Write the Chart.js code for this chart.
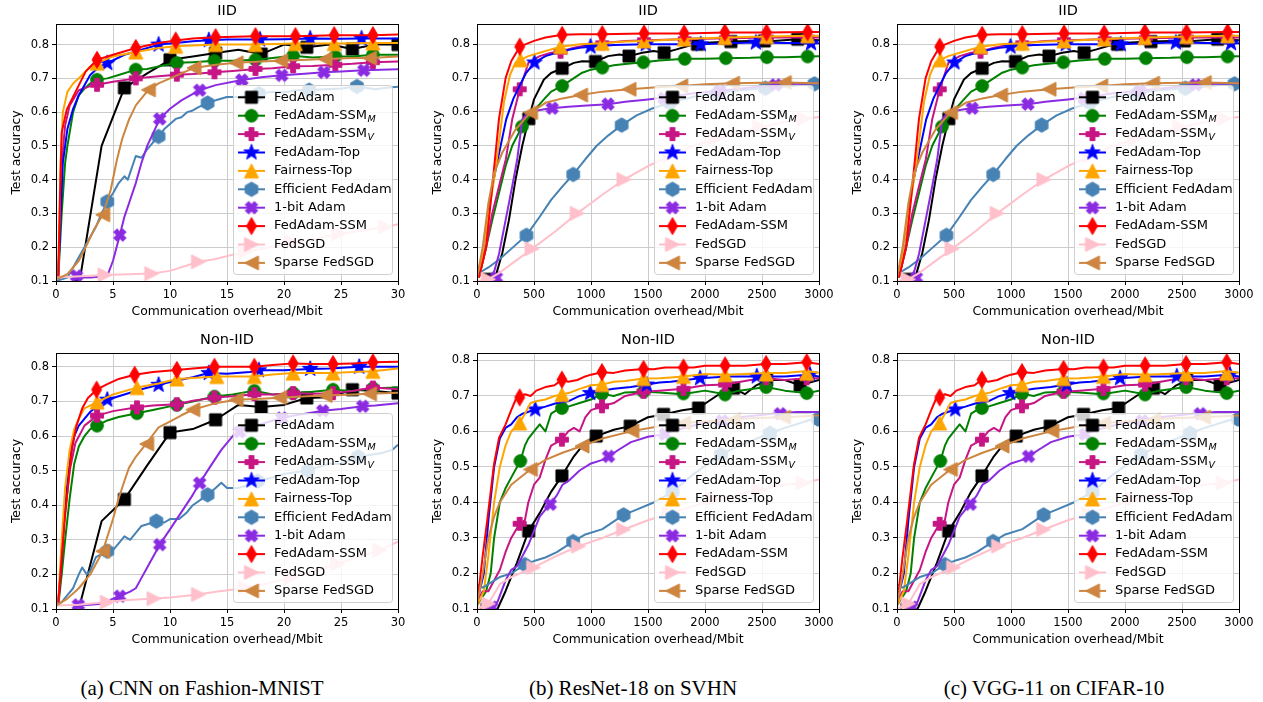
<!DOCTYPE html>
<html>
<head>
<meta charset="utf-8">
<script src="https://cdn.jsdelivr.net/npm/chart.js@4.4.1/dist/chart.umd.min.js"></script>
<style>
  body { margin: 0; background: #fff; width: 1263px; height: 702px; position: relative; overflow: hidden; }
  canvas { position: absolute; }
  .cap { position: absolute; top: 676px; font: 21px 'Liberation Serif', 'Times New Roman', serif; color: #000; white-space: nowrap; transform: translateX(-50%); }
</style>
</head>
<body>
<canvas id="c0"></canvas><canvas id="c1"></canvas><canvas id="c2"></canvas>
<canvas id="c3"></canvas><canvas id="c4"></canvas><canvas id="c5"></canvas>
<div class="cap" style="left:202px">(a) CNN on Fashion-MNIST</div>
<div class="cap" style="left:633px">(b) ResNet-18 on SVHN</div>
<div class="cap" style="left:1054px">(c) VGG-11 on CIFAR-10</div>
<script>
// series names, in legend order
const seriesLabels = ['FedAdam', 'FedAdam-SSM_M', 'FedAdam-SSM_V', 'FedAdam-Top', 'Fairness-Top',
  'Efficient FedAdam', '1-bit Adam', 'FedAdam-SSM', 'FedSGD', 'Sparse FedSGD'];
const seriesColors = ['#000000', '#008000', '#c71585', '#0000ff', '#ffa500',
  '#4682b4', '#8a2be2', '#ff0000', '#ffc0cb', '#cd853f'];
const seriesMarkers = ['s', 'o', 'P', '*', '^', 'h', 'X', 'd', '>', '<'];

const yTicks = [0.1, 0.2, 0.3, 0.4, 0.5, 0.6, 0.7, 0.8];
const xTicksMbitSmall = [0, 5, 10, 15, 20, 25, 30];
const xTicksMbitLarge = [0, 500, 1000, 1500, 2000, 2500, 3000];

// ---- CNN on Fashion-MNIST, IID ----
const fmIidAdam = [[1.5,0.1],[2.1,0.105],[4,0.5],[6,0.672],[8,0.715],[10,0.755],[12,0.765],[14,0.775],[16,0.785],[18,0.772],[20,0.8],[22,0.792],[24,0.8],[26,0.787],[28,0.8],[30,0.8]];
const fmIidAdamMk = [[6,0.672],[10,0.755],[14,0.775],[18,0.772],[22,0.792],[26,0.787],[30,0.8]];
const fmIidSsmM = [[0.2,0.11],[0.5,0.3],[0.8,0.45],[1,0.5],[1.5,0.6],[2,0.65],[2.5,0.67],[3,0.685],[3.6,0.696],[4.5,0.7],[5.5,0.71],[7,0.726],[8,0.728],[9,0.735],[10.6,0.746],[12,0.748],[13.9,0.752],[15.5,0.752],[17.5,0.755],[19,0.76],[20.8,0.767],[22.5,0.762],[24.5,0.765],[26,0.765],[27.8,0.77],[30,0.77]];
const fmIidSsmMMk = [[3.6,0.696],[7,0.726],[10.6,0.746],[13.9,0.752],[17.5,0.755],[20.8,0.767],[24.5,0.765],[27.8,0.77]];
const fmIidSsmV = [[0.2,0.11],[0.5,0.45],[0.8,0.56],[1.2,0.62],[2,0.665],[3,0.677],[3.6,0.681],[5,0.69],[7,0.7],[9,0.706],[10.6,0.711],[12,0.713],[13.9,0.718],[15.5,0.722],[17.5,0.728],[19,0.73],[20.8,0.736],[22.5,0.737],[24.5,0.74],[26,0.743],[27.8,0.748],[30,0.75]];
const fmIidSsmVMk = [[3.6,0.681],[7,0.7],[10.6,0.711],[13.9,0.718],[17.5,0.728],[20.8,0.736],[24.5,0.74],[27.8,0.748]];
const fmIidTop = [[0.2,0.12],[0.6,0.45],[1,0.55],[1.5,0.61],[2,0.65],[3,0.71],[3.8,0.735],[4.5,0.745],[6,0.77],[7.5,0.785],[9,0.8],[10.5,0.805],[12,0.81],[13.4,0.813],[15,0.815],[18,0.815],[20,0.816],[22.3,0.818],[25,0.817],[26.8,0.818],[30,0.818]];
const fmIidTopMk = [[4.5,0.745],[9,0.8],[13.4,0.813],[17.9,0.815],[22.3,0.818],[26.8,0.818]];
const fmIidFair = [[0.2,0.12],[0.4,0.45],[0.6,0.6],[1,0.66],[1.5,0.685],[2,0.7],[3,0.735],[3.6,0.745],[5,0.765],[7,0.778],[9,0.79],[10.5,0.795],[14,0.8],[17.5,0.8],[21,0.803],[24.4,0.803],[27.8,0.805],[30,0.805]];
const fmIidFairMk = [[3.6,0.745],[7,0.778],[10.5,0.795],[14,0.8],[17.5,0.8],[21,0.803],[24.4,0.803],[27.8,0.805]];
const fmIidEff = [[0,0.1],[1,0.11],[1.5,0.14],[2,0.17],[2.5,0.2],[3,0.23],[3.5,0.26],[4,0.3],[4.5,0.335],[5,0.36],[5.5,0.39],[6,0.41],[6.3,0.4],[6.8,0.45],[7,0.47],[7.5,0.465],[8,0.49],[8.5,0.51],[9,0.528],[9.5,0.55],[10,0.565],[10.5,0.58],[11,0.585],[11.5,0.6],[12,0.605],[12.5,0.615],[13.3,0.627],[14,0.635],[15,0.645],[16,0.645],[17,0.65],[17.8,0.655],[19,0.66],[20,0.658],[21,0.665],[22.2,0.665],[23.5,0.668],[25,0.67],[26.4,0.676],[28,0.668],[29,0.672],[30,0.675]];
const fmIidEffMk = [[4.5,0.335],[9,0.528],[13.3,0.627],[17.8,0.655],[22.2,0.665],[26.4,0.676]];
const fmIidOneBit = [[1.5,0.11],[3,0.11],[4.5,0.115],[5,0.16],[5.6,0.236],[6,0.29],[6.5,0.34],[7,0.39],[7.5,0.45],[8,0.5],[9.1,0.58],[10,0.61],[11,0.635],[12.6,0.665],[14,0.68],[16.3,0.695],[18,0.703],[19.8,0.709],[21.5,0.713],[23.5,0.718],[25,0.72],[27,0.724],[30,0.727]];
const fmIidOneBitMk = [[1.8,0.115],[5.6,0.236],[9.1,0.58],[12.6,0.665],[16.3,0.695],[19.8,0.709],[23.5,0.718],[27,0.724]];
const fmIidSsm = [[0.2,0.11],[0.35,0.35],[0.5,0.54],[0.94,0.607],[1.8,0.666],[2.6,0.72],[3.6,0.755],[5,0.77],[7,0.79],[9,0.805],[10.5,0.812],[12,0.818],[14,0.822],[17.5,0.825],[21,0.825],[24.4,0.828],[27.8,0.828],[30,0.83]];
const fmIidSsmMk = [[3.6,0.755],[7,0.79],[10.5,0.812],[14,0.822],[17.5,0.825],[21,0.825],[24.4,0.828],[27.8,0.828]];
const fmIidSgd = [[0,0.11],[4.3,0.118],[8.4,0.122],[10,0.13],[12.5,0.157],[14,0.165],[16.6,0.187],[18,0.195],[20.7,0.215],[22,0.22],[24.8,0.24],[26,0.245],[28.9,0.26],[30,0.268]];
const fmIidSgdMk = [[4.3,0.118],[8.4,0.122],[12.5,0.157],[16.6,0.187],[20.7,0.215],[24.8,0.24],[28.9,0.26]];
const fmIidSparse = [[0,0.105],[1,0.12],[2,0.16],[2.6,0.2],[3.3,0.25],[4.1,0.296],[4.8,0.37],[5.35,0.46],[5.8,0.52],[6.4,0.578],[7,0.62],[8.1,0.666],[9,0.685],[10,0.7],[11,0.715],[12.1,0.731],[14,0.74],[15.8,0.746],[18,0.75],[19.7,0.752],[22,0.755],[23.6,0.757],[26,0.76],[27.5,0.76],[30,0.765]];
const fmIidSparseMk = [[4.1,0.296],[8.1,0.666],[12.1,0.731],[15.8,0.746],[19.7,0.752],[23.6,0.757],[27.5,0.76]];

// ---- CNN on Fashion-MNIST, Non-IID ----
const fmNonAdam = [[1.5,0.1],[2.1,0.113],[4,0.354],[6,0.417],[8,0.515],[10,0.61],[12,0.62],[14,0.647],[16,0.69],[18,0.684],[20,0.69],[22,0.71],[24,0.712],[26,0.734],[28,0.73],[30,0.724]];
const fmNonAdamMk = [[6,0.417],[10,0.61],[14,0.647],[18,0.684],[22,0.71],[26,0.734],[30,0.724]];
const fmNonSsmM = [[0.2,0.11],[0.5,0.2],[0.8,0.3],[1.2,0.42],[1.6,0.52],[2,0.57],[2.5,0.6],[3,0.62],[3.6,0.63],[4.5,0.645],[5.5,0.655],[7.1,0.666],[8.5,0.675],[10.6,0.69],[12,0.7],[13.9,0.714],[15.5,0.72],[17.4,0.731],[19,0.72],[20.8,0.724],[22.5,0.728],[24.3,0.734],[26,0.73],[27.8,0.738],[30,0.74]];
const fmNonSsmMMk = [[3.6,0.63],[7.1,0.666],[10.6,0.69],[13.9,0.714],[17.4,0.731],[20.8,0.724],[24.3,0.734],[27.8,0.738]];
const fmNonSsmV = [[0.2,0.11],[0.5,0.25],[0.7,0.35],[1.2,0.5],[1.7,0.58],[2.5,0.63],[3.6,0.659],[5,0.672],[7.1,0.683],[8.5,0.688],[10.6,0.692],[12,0.702],[13.9,0.711],[15.5,0.715],[17.4,0.721],[19,0.72],[20.8,0.724],[22.5,0.722],[24.3,0.724],[26,0.73],[27.8,0.74],[30,0.735]];
const fmNonSsmVMk = [[3.6,0.659],[7.1,0.683],[10.6,0.692],[13.9,0.711],[17.4,0.721],[20.8,0.724],[24.3,0.724],[27.8,0.74]];
const fmNonTop = [[0.2,0.12],[0.5,0.25],[0.8,0.4],[1.2,0.53],[1.6,0.6],[2,0.63],[3,0.67],[3.8,0.69],[4.5,0.705],[6,0.72],[7.5,0.735],[9,0.748],[10.5,0.76],[12,0.77],[13.4,0.782],[15,0.78],[17,0.785],[18,0.79],[20,0.79],[22.3,0.794],[24,0.795],[26.6,0.8],[28,0.8],[30,0.8]];
const fmNonTopMk = [[4.5,0.705],[9,0.748],[13.4,0.782],[17.8,0.79],[22.3,0.794],[26.6,0.8]];
const fmNonFair = [[0.2,0.12],[0.5,0.3],[0.8,0.45],[1.2,0.56],[1.6,0.62],[2,0.65],[2.5,0.68],[3.6,0.698],[5,0.72],[7.1,0.74],[9,0.752],[10.6,0.765],[12,0.768],[14.1,0.772],[17.4,0.772],[19,0.778],[20.8,0.782],[24.3,0.782],[26,0.785],[27.8,0.787],[30,0.795]];
const fmNonFairMk = [[3.6,0.698],[7.1,0.74],[10.6,0.765],[14.1,0.772],[17.4,0.772],[20.8,0.782],[24.3,0.782],[27.8,0.787]];
const fmNonEff = [[0,0.11],[0.5,0.12],[1,0.14],[1.5,0.16],[2,0.2],[2.3,0.22],[2.7,0.2],[3,0.21],[3.5,0.25],[4.5,0.267],[5,0.27],[5.5,0.29],[6,0.31],[6.5,0.3],[7,0.32],[7.5,0.34],[8,0.345],[8.8,0.354],[9.5,0.35],[10,0.36],[10.8,0.36],[11.5,0.38],[12,0.4],[13.3,0.43],[14,0.45],[14.5,0.465],[15,0.45],[16,0.45],[17,0.46],[17.7,0.47],[19,0.48],[20,0.49],[21,0.495],[22.1,0.5],[23,0.51],[24,0.52],[25,0.52],[26.5,0.54],[27.5,0.545],[28.5,0.55],[29.5,0.56],[30,0.575]];
const fmNonEffMk = [[4.5,0.267],[8.8,0.354],[13.3,0.43],[17.7,0.47],[22.1,0.5],[26.5,0.54]];
const fmNonOneBit = [[1.5,0.11],[3,0.112],[4,0.115],[5,0.13],[5.6,0.137],[6.5,0.15],[7,0.16],[7.5,0.19],[8,0.22],[9.1,0.286],[10,0.33],[11,0.38],[12,0.43],[12.6,0.464],[13.5,0.51],[14.5,0.56],[15.5,0.6],[16.3,0.615],[17,0.625],[18,0.635],[19.8,0.652],[21,0.66],[22,0.665],[23.4,0.673],[25,0.678],[26.9,0.686],[28,0.688],[30,0.695]];
const fmNonOneBitMk = [[1.96,0.112],[5.6,0.137],[9.1,0.286],[12.6,0.464],[16.1,0.612],[19.8,0.652],[23.4,0.673],[26.9,0.686]];
const fmNonSsm = [[0.2,0.12],[0.5,0.25],[0.8,0.37],[1.1,0.47],[1.4,0.566],[1.8,0.63],[2.3,0.68],[2.8,0.71],[3.56,0.734],[4.5,0.75],[5.5,0.765],[6.9,0.777],[8.5,0.785],[10.6,0.791],[12,0.795],[13.9,0.8],[15.5,0.8],[17.4,0.8],[19,0.805],[20.8,0.81],[22.5,0.808],[24.3,0.808],[26,0.81],[27.8,0.813],[30,0.815]];
const fmNonSsmMk = [[3.56,0.734],[6.9,0.777],[10.6,0.791],[13.9,0.8],[17.4,0.8],[20.8,0.81],[24.3,0.808],[27.8,0.813]];
const fmNonSgd = [[0,0.11],[2,0.112],[4.5,0.12],[6,0.125],[8.6,0.13],[10,0.133],[12.5,0.142],[14,0.15],[16.5,0.16],[18,0.17],[20.6,0.19],[22,0.205],[24.7,0.23],[26,0.245],[28.4,0.27],[30,0.295]];
const fmNonSgdMk = [[4.5,0.12],[8.6,0.13],[12.5,0.142],[16.6,0.162],[20.6,0.19],[24.7,0.23],[28.4,0.27]];
const fmNonSparse = [[0,0.11],[1,0.13],[2,0.16],[3,0.2],[4.1,0.267],[5,0.36],[5.5,0.42],[6,0.47],[6.4,0.508],[7,0.54],[7.9,0.577],[9,0.625],[9.9,0.64],[11,0.66],[12,0.676],[14,0.695],[15.8,0.705],[18,0.708],[19.6,0.711],[22,0.715],[23.6,0.717],[26,0.72],[27.5,0.722],[30,0.725]];
const fmNonSparseMk = [[4.1,0.267],[7.95,0.577],[12,0.676],[15.8,0.705],[19.6,0.711],[23.6,0.717],[27.5,0.722]];

// ---- ResNet-18 on SVHN, IID (the VGG-11 panels show the same curves) ----
const svIidAdam = [[103,0.105],[160,0.11],[222,0.183],[280,0.28],[338,0.4],[397,0.5],[454,0.58],[500,0.637],[587,0.696],[650,0.715],[747,0.729],[850,0.745],[923,0.75],[1040,0.749],[1150,0.765],[1250,0.77],[1333,0.765],[1450,0.775],[1550,0.78],[1641,0.775],[1750,0.785],[1850,0.795],[1934,0.8],[2050,0.805],[2227,0.808],[2400,0.81],[2600,0.81],[2813,0.815],[3000,0.812]];
const svIidAdamMk = [[103,0.105],[454,0.58],[747,0.729],[1040,0.749],[1333,0.765],[1641,0.775],[1934,0.8],[2227,0.808],[2520,0.81],[2813,0.815]];
const svIidSsmM = [[17,0.11],[80,0.2],[134,0.28],[193,0.36],[251,0.44],[309,0.5],[395,0.557],[485,0.598],[587,0.637],[650,0.66],[747,0.677],[850,0.7],[923,0.716],[1000,0.725],[1099,0.731],[1200,0.738],[1300,0.742],[1459,0.747],[1600,0.752],[1822,0.757],[2000,0.757],[2183,0.759],[2400,0.76],[2543,0.762],[2700,0.762],[2900,0.764],[3000,0.765]];
const svIidSsmMMk = [[395,0.557],[747,0.677],[1099,0.731],[1459,0.747],[1822,0.757],[2183,0.759],[2543,0.762],[2900,0.764]];
const svIidSsmV = [[17,0.11],[80,0.2],[134,0.3],[193,0.38],[253,0.46],[309,0.578],[375,0.667],[452,0.746],[550,0.765],[650,0.775],[733,0.778],[850,0.79],[1000,0.8],[1099,0.803],[1300,0.81],[1500,0.812],[1800,0.815],[2200,0.818],[2600,0.82],[3000,0.82]];
const svIidSsmVMk = [[375,0.667],[733,0.778],[1099,0.803],[1465,0.812],[1822,0.815],[2183,0.818],[2543,0.82],[2900,0.82]];
const svIidTop = [[17,0.11],[80,0.25],[134,0.38],[195,0.48],[256,0.578],[320,0.64],[373,0.677],[430,0.715],[504,0.746],[600,0.765],[750,0.78],[900,0.79],[996,0.793],[1200,0.798],[1480,0.8],[1700,0.8],[1963,0.8],[2200,0.803],[2446,0.805],[2700,0.804],[2930,0.803],[3000,0.803]];
const svIidTopMk = [[504,0.746],[996,0.793],[1480,0.8],[1963,0.8],[2446,0.805],[2930,0.803]];
const svIidFair = [[17,0.11],[80,0.25],[163,0.43],[237,0.63],[290,0.71],[338,0.746],[381,0.754],[450,0.765],[550,0.775],[733,0.793],[900,0.8],[1099,0.803],[1300,0.808],[1465,0.81],[1817,0.816],[2174,0.82],[2540,0.823],[2900,0.825],[3000,0.825]];
const svIidFairMk = [[381,0.754],[733,0.793],[1099,0.803],[1465,0.81],[1817,0.816],[2174,0.82],[2540,0.823],[2900,0.825]];
const svIidEff = [[0,0.12],[100,0.14],[200,0.165],[300,0.195],[434,0.235],[550,0.29],[650,0.34],[750,0.38],[844,0.415],[950,0.46],[1050,0.5],[1150,0.53],[1269,0.561],[1400,0.59],[1537,0.61],[1700,0.628],[1900,0.645],[2100,0.655],[2300,0.664],[2520,0.67],[2750,0.677],[2960,0.683],[3000,0.683]];
const svIidEffMk = [[434,0.235],[844,0.415],[1269,0.561],[1690,0.627],[2110,0.655],[2530,0.67],[2960,0.683]];
const svIidOneBit = [[75,0.105],[132,0.105],[193,0.18],[251,0.28],[309,0.38],[353,0.46],[397,0.578],[440,0.596],[500,0.603],[631,0.61],[800,0.615],[1000,0.62],[1149,0.623],[1300,0.63],[1500,0.637],[1700,0.645],[1900,0.655],[2150,0.663],[2400,0.672],[2620,0.68],[2800,0.683],[3000,0.685]];
const svIidOneBitMk = [[170,0.11],[660,0.611],[1149,0.623],[1640,0.64],[2130,0.662],[2620,0.68]];
const svIidSsm = [[17,0.11],[80,0.2],[134,0.38],[193,0.58],[251,0.7],[300,0.75],[375,0.793],[500,0.81],[600,0.82],[747,0.828],[900,0.83],[1099,0.83],[1465,0.832],[1817,0.832],[2174,0.835],[2540,0.835],[2900,0.836],[3000,0.836]];
const svIidSsmMk = [[375,0.793],[747,0.828],[1099,0.83],[1465,0.832],[1817,0.832],[2174,0.835],[2540,0.835],[2900,0.836]];
const svIidSgd = [[0,0.1],[100,0.105],[200,0.125],[300,0.15],[483,0.195],[700,0.25],[879,0.3],[1100,0.355],[1289,0.4],[1500,0.44],[1700,0.47],[1900,0.5],[2100,0.52],[2300,0.54],[2500,0.555],[2700,0.57],[2871,0.58],[3000,0.585]];
const svIidSgdMk = [[100,0.105],[483,0.195],[879,0.3],[1289,0.4],[1690,0.47],[2090,0.52],[2480,0.555],[2871,0.58]];
const svIidSparse = [[0,0.11],[50,0.2],[100,0.33],[150,0.42],[222,0.48],[338,0.548],[469,0.598],[601,0.627],[750,0.64],[908,0.65],[1100,0.66],[1333,0.667],[1550,0.672],[1787,0.677],[2000,0.682],[2241,0.685],[2500,0.686],[2695,0.687],[3000,0.685]];
const svIidSparseMk = [[469,0.598],[908,0.65],[1333,0.667],[1787,0.677],[2241,0.685],[2695,0.687]];

// ---- ResNet-18 on SVHN, Non-IID ----
const svNonAdam = [[88,0.1],[180,0.1],[250,0.15],[350,0.23],[453,0.32],[550,0.37],[650,0.43],[745,0.475],[850,0.53],[950,0.57],[1046,0.587],[1200,0.605],[1344,0.615],[1500,0.64],[1636,0.648],[1800,0.66],[1943,0.666],[2100,0.7],[2250,0.722],[2350,0.705],[2450,0.73],[2550,0.745],[2700,0.745],[2834,0.73],[3000,0.745]];
const svNonAdamMk = [[88,0.1],[453,0.32],[745,0.475],[1046,0.587],[1344,0.615],[1636,0.648],[1943,0.666],[2250,0.722],[2540,0.745],[2834,0.73]];
const svNonSsmM = [[0,0.11],[80,0.15],[120,0.2],[150,0.3],[200,0.4],[250,0.44],[300,0.47],[380,0.517],[420,0.56],[450,0.58],[500,0.6],[550,0.62],[600,0.6],[650,0.65],[700,0.66],[745,0.666],[800,0.67],[900,0.68],[1000,0.69],[1096,0.706],[1200,0.7],[1300,0.71],[1461,0.712],[1600,0.71],[1800,0.705],[2000,0.715],[2176,0.705],[2300,0.715],[2536,0.725],[2700,0.715],[2892,0.708],[3000,0.715]];
const svNonSsmMMk = [[380,0.517],[745,0.666],[1096,0.706],[1461,0.712],[1811,0.707],[2176,0.704],[2536,0.725],[2892,0.708]];
const svNonSsmV = [[0,0.12],[50,0.15],[100,0.15],[150,0.18],[200,0.21],[250,0.26],[300,0.3],[374,0.34],[420,0.35],[450,0.4],[500,0.45],[550,0.47],[600,0.52],[650,0.56],[745,0.577],[800,0.6],[850,0.61],[900,0.6],[950,0.64],[1000,0.66],[1096,0.671],[1200,0.68],[1300,0.7],[1461,0.712],[1600,0.715],[1811,0.72],[2000,0.73],[2176,0.732],[2400,0.745],[2536,0.75],[2700,0.745],[2892,0.75],[3000,0.75]];
const svNonSsmVMk = [[374,0.34],[745,0.577],[1096,0.671],[1461,0.712],[1811,0.72],[2176,0.732],[2536,0.75],[2892,0.75]];
const svNonTop = [[0,0.12],[60,0.2],[100,0.35],[150,0.5],[200,0.58],[250,0.61],[300,0.62],[350,0.64],[400,0.65],[511,0.662],[600,0.67],[700,0.68],[800,0.685],[900,0.7],[993,0.708],[1100,0.715],[1200,0.72],[1350,0.725],[1490,0.732],[1600,0.738],[1700,0.74],[1957,0.75],[2200,0.755],[2454,0.755],[2700,0.755],[2900,0.76],[3000,0.755]];
const svNonTopMk = [[511,0.662],[993,0.708],[1490,0.732],[1957,0.75],[2454,0.755],[2921,0.76]];
const svNonFair = [[0,0.11],[60,0.15],[100,0.25],[150,0.4],[200,0.5],[250,0.56],[300,0.6],[374,0.624],[420,0.65],[470,0.68],[520,0.685],[600,0.69],[680,0.7],[745,0.704],[820,0.71],[900,0.72],[1000,0.73],[1096,0.732],[1200,0.74],[1300,0.742],[1461,0.749],[1600,0.75],[1700,0.752],[1811,0.755],[2000,0.762],[2176,0.76],[2350,0.762],[2536,0.765],[2700,0.765],[2892,0.77],[3000,0.765]];
const svNonFairMk = [[374,0.624],[745,0.704],[1096,0.732],[1461,0.749],[1811,0.755],[2176,0.76],[2536,0.762],[2892,0.764]];
const svNonEff = [[0,0.17],[50,0.16],[100,0.17],[200,0.19],[300,0.2],[420,0.225],[500,0.235],[600,0.245],[700,0.26],[843,0.29],[950,0.31],[1100,0.325],[1286,0.365],[1400,0.38],[1550,0.4],[1715,0.43],[1900,0.48],[2140,0.535],[2300,0.56],[2570,0.595],[2700,0.61],[2900,0.63],[3000,0.64]];
const svNonEffMk = [[420,0.225],[843,0.29],[1286,0.365],[1715,0.43],[2140,0.535],[2570,0.595],[2990,0.635]];
const svNonOneBit = [[100,0.1],[180,0.12],[250,0.18],[300,0.21],[350,0.22],[400,0.25],[450,0.28],[500,0.32],[550,0.36],[600,0.38],[643,0.395],[700,0.42],[750,0.45],[800,0.46],[900,0.49],[1000,0.51],[1100,0.52],[1154,0.53],[1250,0.55],[1350,0.57],[1500,0.585],[1600,0.59],[1700,0.6],[2000,0.625],[2300,0.64],[2600,0.65],[2800,0.655],[3000,0.655]];
const svNonOneBitMk = [[131,0.105],[643,0.395],[1154,0.53],[1650,0.592],[2150,0.63],[2660,0.65]];
const svNonSsm = [[0,0.11],[50,0.25],[90,0.35],[149,0.507],[193,0.582],[251,0.62],[300,0.66],[340,0.69],[374,0.696],[420,0.705],[470,0.7],[520,0.715],[600,0.725],[680,0.73],[745,0.746],[800,0.74],[880,0.745],[950,0.755],[1000,0.76],[1096,0.767],[1200,0.765],[1300,0.772],[1461,0.776],[1550,0.775],[1650,0.78],[1811,0.78],[1900,0.78],[2000,0.785],[2176,0.785],[2350,0.785],[2536,0.79],[2700,0.79],[2892,0.795],[3000,0.79]];
const svNonSsmMk = [[374,0.696],[745,0.746],[1096,0.767],[1461,0.776],[1811,0.78],[2176,0.786],[2536,0.79],[2892,0.795]];
const svNonSgd = [[0,0.1],[100,0.115],[200,0.17],[300,0.19],[497,0.217],[700,0.25],[891,0.277],[1100,0.3],[1286,0.324],[1500,0.35],[1700,0.37],[1900,0.39],[2100,0.41],[2400,0.43],[2700,0.45],[2863,0.455],[3000,0.465]];
const svNonSgdMk = [[100,0.115],[497,0.217],[891,0.277],[1286,0.324],[1680,0.37],[2075,0.41],[2470,0.435],[2863,0.455]];
const svNonSparse = [[0,0.11],[50,0.2],[100,0.3],[150,0.36],[200,0.4],[300,0.45],[468,0.493],[600,0.52],[750,0.54],[921,0.559],[1100,0.58],[1358,0.601],[1600,0.615],[1811,0.624],[2100,0.63],[2400,0.637],[2688,0.64],[3000,0.645]];
const svNonSparseMk = [[468,0.493],[921,0.559],[1358,0.601],[1811,0.624],[2250,0.633],[2688,0.64]];

const fmIidLines = [fmIidAdam, fmIidSsmM, fmIidSsmV, fmIidTop, fmIidFair, fmIidEff, fmIidOneBit, fmIidSsm, fmIidSgd, fmIidSparse];
const fmIidMarks = [fmIidAdamMk, fmIidSsmMMk, fmIidSsmVMk, fmIidTopMk, fmIidFairMk, fmIidEffMk, fmIidOneBitMk, fmIidSsmMk, fmIidSgdMk, fmIidSparseMk];
const fmNonLines = [fmNonAdam, fmNonSsmM, fmNonSsmV, fmNonTop, fmNonFair, fmNonEff, fmNonOneBit, fmNonSsm, fmNonSgd, fmNonSparse];
const fmNonMarks = [fmNonAdamMk, fmNonSsmMMk, fmNonSsmVMk, fmNonTopMk, fmNonFairMk, fmNonEffMk, fmNonOneBitMk, fmNonSsmMk, fmNonSgdMk, fmNonSparseMk];
const svIidLines = [svIidAdam, svIidSsmM, svIidSsmV, svIidTop, svIidFair, svIidEff, svIidOneBit, svIidSsm, svIidSgd, svIidSparse];
const svIidMarks = [svIidAdamMk, svIidSsmMMk, svIidSsmVMk, svIidTopMk, svIidFairMk, svIidEffMk, svIidOneBitMk, svIidSsmMk, svIidSgdMk, svIidSparseMk];
const svNonLines = [svNonAdam, svNonSsmM, svNonSsmV, svNonTop, svNonFair, svNonEff, svNonOneBit, svNonSsm, svNonSgd, svNonSparse];
const svNonMarks = [svNonAdamMk, svNonSsmMMk, svNonSsmVMk, svNonTopMk, svNonFairMk, svNonEffMk, svNonOneBitMk, svNonSsmMk, svNonSgdMk, svNonSparseMk];

const FONT = "'DejaVu Sans', 'Liberation Sans', sans-serif";

// matplotlib-like filled markers, drawn once into small canvases
function markerImage(shape, color) {
  const s = 20;
  const c = document.createElement('canvas');
  c.width = c.height = s;
  const g = c.getContext('2d');
  g.fillStyle = color;
  g.strokeStyle = color;
  g.lineWidth = 1;
  g.translate(s / 2, s / 2);
  g.beginPath();
  const poly = pts => pts.forEach((p, i) => i ? g.lineTo(p[0], p[1]) : g.moveTo(p[0], p[1]));
  if (shape === 's') {
    g.rect(-6, -6, 12, 12);
  } else if (shape === 'o') {
    g.arc(0, 0, 6.3, 0, Math.PI * 2);
  } else if (shape === 'P' || shape === 'X') {
    const a = 6.5, w = 2.4;
    let pts = [[-w,-a],[w,-a],[w,-w],[a,-w],[a,w],[w,w],[w,a],[-w,a],[-w,w],[-a,w],[-a,-w],[-w,-w]];
    if (shape === 'X') {
      const r = Math.PI / 4;
      pts = pts.map(p => [p[0]*Math.cos(r) - p[1]*Math.sin(r), p[0]*Math.sin(r) + p[1]*Math.cos(r)]);
    }
    poly(pts);
  } else if (shape === '*') {
    const pts = [];
    for (let i = 0; i < 10; i++) {
      const ang = -Math.PI / 2 + i * Math.PI / 5;
      const r = i % 2 ? 3.3 : 8.2;
      pts.push([r * Math.cos(ang), r * Math.sin(ang)]);
    }
    poly(pts);
  } else if (shape === '^') {
    poly([[0,-7],[7,7],[-7,7]]);
  } else if (shape === '>') {
    poly([[7,0],[-7,-7],[-7,7]]);
  } else if (shape === '<') {
    poly([[-7,0],[7,-7],[7,7]]);
  } else if (shape === 'h') {
    const pts = [];
    for (let i = 0; i < 6; i++) {
      const ang = -Math.PI / 2 + i * Math.PI / 3;
      pts.push([7.2 * Math.cos(ang), 7.2 * Math.sin(ang)]);
    }
    poly(pts);
  } else if (shape === 'd') {
    poly([[0,-8.5],[5,0],[0,8.5],[-5,0]]);
  }
  g.closePath();
  g.fill();
  g.stroke();
  return c;
}
const markerImages = seriesMarkers.map((m, i) => markerImage(m, seriesColors[i]));

const crisp = v => Math.round(v - 0.5) + 0.5;

// frame, panel title and matplotlib-style legend inside the plot area
const panelDecor = {
  id: 'panelDecor',
  afterDatasetsDraw(chart, args, opts) {
    const { ctx, chartArea: a } = chart;
    ctx.save();
    ctx.strokeStyle = '#000';
    ctx.lineWidth = 1;
    const l = crisp(a.left), t = crisp(a.top), r = crisp(a.right), b = crisp(a.bottom);
    ctx.strokeRect(l, t, r - l, b - t);

    ctx.fillStyle = '#000';
    ctx.font = '14.5px ' + FONT;
    ctx.textAlign = 'center';
    ctx.textBaseline = 'middle';
    ctx.fillText(opts.title, (a.left + a.right) / 2, a.top - 12.5);

    // legend box
    const bw = 159, bh = 189;
    const bx = a.right - 6 - bw, by = a.bottom - 7 - bh;
    ctx.beginPath();
    ctx.roundRect(bx + 0.5, by + 0.5, bw, bh, 3);
    ctx.fillStyle = 'rgba(255,255,255,0.8)';
    ctx.fill();
    ctx.strokeStyle = '#d0d0d0';
    ctx.stroke();

    ctx.textAlign = 'left';
    seriesLabels.forEach((label, i) => {
      const y = by + 12.3 + i * 18.4;
      ctx.strokeStyle = seriesColors[i];
      ctx.lineWidth = 2;
      ctx.beginPath();
      ctx.moveTo(bx + 5, y);
      ctx.lineTo(bx + 32, y);
      ctx.stroke();
      const img = markerImages[i];
      ctx.drawImage(img, bx + 18.5 - img.width / 2, y - img.height / 2);
      ctx.fillStyle = '#000';
      const parts = label.split('_');
      ctx.font = '13px ' + FONT;
      ctx.fillText(parts[0], bx + 41, y);
      if (parts[1]) {
        const w = ctx.measureText(parts[0]).width;
        ctx.font = 'italic 9.5px ' + FONT;
        ctx.fillText(parts[1], bx + 41 + w + 0.5, y + 3.5);
      }
    });
    ctx.restore();
  }
};

function buildPanel(id, rect, title, xMax, xTicks, yMax, lines, marks) {
  const padTop = 24, padRight = 20, yAxisW = 56, xAxisH = 38;
  const cv = document.getElementById(id);
  cv.width = (rect.r - rect.l) + yAxisW + padRight;
  cv.height = padTop + (rect.b - rect.t) + xAxisH;
  cv.style.left = (rect.l - yAxisW) + 'px';
  cv.style.top = (rect.t - padTop) + 'px';

  const datasets = [];
  lines.forEach((pts, k) => {
    datasets.push({
      data: pts.map(p => ({ x: p[0], y: p[1] })),
      borderColor: seriesColors[k],
      borderWidth: 2,
      borderJoinStyle: 'round',
      pointRadius: 0,
      tension: 0,
      order: (10 - k) * 2 + 1
    });
    datasets.push({
      data: marks[k].map(p => ({ x: p[0], y: p[1] })),
      showLine: false,
      pointStyle: markerImages[k],
      pointRadius: 6,
      order: (10 - k) * 2
    });
  });

  const tickFont = { family: FONT, size: 11.5 };
  const titleFont = { family: FONT, size: 12.4 };
  new Chart(cv, {
    type: 'line',
    data: { datasets },
    plugins: [panelDecor],
    options: {
      responsive: false,
      animation: false,
      devicePixelRatio: 1,
      layout: { padding: { top: padTop, right: padRight, left: 0, bottom: 0 } },
      plugins: { legend: { display: false }, tooltip: { enabled: false }, panelDecor: { title } },
      scales: {
        x: {
          type: 'linear', min: 0, max: xMax,
          afterBuildTicks: s => { s.ticks = xTicks.map(v => ({ value: v })); },
          afterFit: s => { s.height = xAxisH; },
          ticks: { font: tickFont, color: '#000', padding: 3, maxRotation: 0, autoSkip: false, callback: v => String(v) },
          grid: { color: '#cccccc', lineWidth: 1, tickColor: '#000', tickLength: 4 },
          border: { color: '#000', width: 1 },
          title: { display: true, text: 'Communication overhead/Mbit', font: titleFont, color: '#000', padding: { top: 0, bottom: 0 } }
        },
        y: {
          type: 'linear', min: 0.1, max: yMax,
          afterBuildTicks: s => { s.ticks = yTicks.map(v => ({ value: v })); },
          afterFit: s => { s.width = yAxisW; },
          ticks: { font: tickFont, color: '#000', padding: 3, callback: v => v.toFixed(1) },
          grid: { color: '#cccccc', lineWidth: 1, tickColor: '#000', tickLength: 4 },
          border: { color: '#000', width: 1 },
          title: { display: true, text: 'Test accuracy', font: titleFont, color: '#000', padding: { top: 9, bottom: 0 } }
        }
      }
    }
  });
}

const topRow = { t: 24, b: 281 }, botRow = { t: 353, b: 609 };
const colA = { l: 56, r: 398 }, colB = { l: 477, r: 819 }, colC = { l: 897, r: 1239 };

buildPanel('c0', { ...colA, ...topRow }, 'IID', 30, xTicksMbitSmall, 0.861, fmIidLines, fmIidMarks);
buildPanel('c1', { ...colB, ...topRow }, 'IID', 3000, xTicksMbitLarge, 0.86, svIidLines, svIidMarks);
buildPanel('c2', { ...colC, ...topRow }, 'IID', 3000, xTicksMbitLarge, 0.86, svIidLines, svIidMarks);
buildPanel('c3', { ...colA, ...botRow }, 'Non-IID', 30, xTicksMbitSmall, 0.84, fmNonLines, fmNonMarks);
buildPanel('c4', { ...colB, ...botRow }, 'Non-IID', 3000, xTicksMbitLarge, 0.821, svNonLines, svNonMarks);
buildPanel('c5', { ...colC, ...botRow }, 'Non-IID', 3000, xTicksMbitLarge, 0.821, svNonLines, svNonMarks);
</script>
</body>
</html>
